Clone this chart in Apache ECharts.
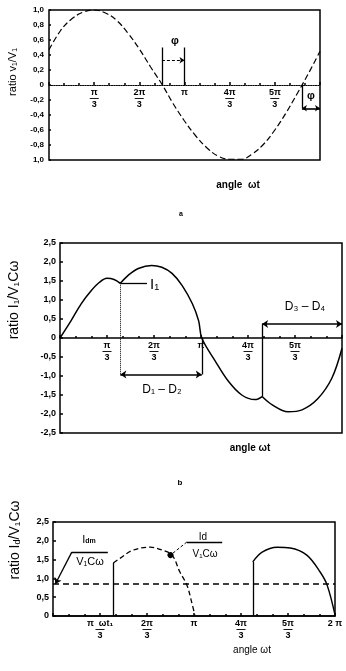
<!DOCTYPE html>
<html>
<head>
<meta charset="utf-8">
<script src="https://cdn.jsdelivr.net/npm/echarts@6/dist/echarts.min.js"></script>
<style>
  html, body { margin: 0; padding: 0; background: #fff; }
  #chart { width: 346px; height: 671px; }
</style>
</head>
<body>
<div id="chart"></div>
<script>
// angles in degrees (0..2π)

// (a) voltage ratio v1/V1
const angleA = [0, 15, 30, 45, 60, 75, 90, 105, 120, 135, 150, 165, 180, 195, 210, 225, 240, 255, 270, 285, 300, 315, 330, 345, 360];
const ratioV = [0.47, 0.72, 0.88, 0.97, 1.0, 0.96, 0.86, 0.69, 0.48, 0.24, 0.01, -0.25, -0.48, -0.68, -0.84, -0.95, -0.99, -0.99, -0.92, -0.79, -0.6, -0.37, -0.11, 0.16, 0.45];

// (b) current ratio I1/V1Cω
const angleB = [0, 14, 27, 40, 50, 60, 69, 77, 87, 100, 117, 130, 143, 156, 169, 177, 181, 198, 215, 232, 249, 258, 271, 291, 309, 329, 347, 360];
const ratioI1 = [0, 0.45, 0.9, 1.25, 1.46, 1.57, 1.54, 1.44, 1.65, 1.83, 1.91, 1.86, 1.7, 1.38, 0.9, 0.45, 0, -0.6, -1.14, -1.5, -1.62, -1.54, -1.76, -1.94, -1.89, -1.6, -1.06, -0.27];
const jumpIdx = [7, 21]; // switching instants (cusps)

// (c) diode current ratio Id/V1Cω, two conduction intervals (first point = top of the jump)
const angleC1 = [77, 86, 102, 124, 140, 152, 162, 171, 177, 181];
const ratioC1 = [1.41, 1.54, 1.75, 1.83, 1.75, 1.62, 1.17, 0.82, 0.37, 0.03];
const angleC2 = [255, 267, 286, 303, 324, 341, 350, 360];
const ratioC2 = [1.44, 1.70, 1.83, 1.81, 1.62, 1.17, 0.82, 0.03];
const meanRatio = 0.85;

// tick labels (fractions of π)
const tickAngles = [60, 120, 180, 240, 300, 360];
const tickNum = ['π', '2π', 'π', '4π', '5π', ''];
const tickDen = ['3', '3', '', '3', '3', ''];

// annotation positions (data coords)
const phiA = [150, 180];
const phiB = [336, 360];
const d12 = [77, 181];
const d12Y = -0.96;
const d34 = [258, 360];
const d34Y = 0.37;

const FONT = '"Liberation Sans", Arial, sans-serif';
const K = '#000';

function fracLabel(v, extra) {
  const i = tickAngles.indexOf(v);
  if (i < 0) return '';
  if (extra && extra[v] !== undefined) return extra[v];
  if (!tickNum[i]) return '';
  if (!tickDen[i]) return '{n|' + tickNum[i] + '}';
  return '{n|' + tickNum[i] + '}\n{b|—}\n{d|' + tickDen[i] + '}';
}

const fracRich = {
  n: { fontSize: 9, fontWeight: 'bold', lineHeight: 9, fontFamily: FONT, color: K },
  b: { fontSize: 9, fontWeight: 'bold', lineHeight: 3, fontFamily: FONT, color: K },
  d: { fontSize: 9, fontWeight: 'bold', lineHeight: 9, fontFamily: FONT, color: K },
  t: { fontSize: 9, fontWeight: 'bold', lineHeight: 9, fontFamily: FONT, color: K }
};

const comma = (v, digits) => v === 0 ? '0' : v.toFixed(digits).replace('.', ',');

function seg(a, b, style, sym) {
  return [
    { coord: a, symbol: sym ? sym[0] : 'none', lineStyle: style },
    { coord: b, symbol: sym ? sym[1] : 'none' }
  ];
}
const solid = { color: K, width: 1.3, type: 'solid' };
const thick = { color: K, width: 1.6, type: 'solid' };
const dotted = { color: K, width: 1, type: 'dotted' };
const dashed = { color: K, width: 1, type: [3, 2] };

const chart = echarts.init(document.getElementById('chart'));

const gridBase = { show: true, borderColor: K, borderWidth: 1.5, backgroundColor: 'transparent' };
const grids = [
  { left: 49, top: 10, width: 271, height: 150 },
  { left: 60, top: 243, width: 282, height: 190 },
  { left: 53, top: 522, width: 282, height: 94 }
];
// x axes of (a) and (b) sit on the zero line, half-way up the plot
const xOffsets = [-75, -95, 0];

const pairsB = angleB.map((a, i) => [a, ratioI1[i]]);
const piecesB = [pairsB.slice(0, jumpIdx[0] + 1), pairsB.slice(jumpIdx[0], jumpIdx[1] + 1), pairsB.slice(jumpIdx[1])];

const seriesB = piecesB.map((data, k) => ({
  name: 'I1', type: 'line', xAxisIndex: 1, yAxisIndex: 1,
  data, smooth: 0.35, showSymbol: false,
  lineStyle: { color: K, width: 1.5 },
  markLine: k > 0 ? undefined : {
    silent: true, symbolSize: 6, label: { show: false },
    data: [
      seg([d12[0], ratioI1[jumpIdx[0]]], [d12[0], d12Y], dotted),
      seg([d12[1], 0], [d12[1], d12Y], solid),
      seg([d12[0], d12Y], [d12[1], d12Y], thick, ['arrow', 'arrow']),
      seg([d34[0], ratioI1[jumpIdx[1]]], [d34[0], d34Y], solid),
      seg([d34[0], d34Y], [d34[1], d34Y], thick, ['arrow', 'arrow']),
      seg([d12[0], ratioI1[jumpIdx[0]]], [111, ratioI1[jumpIdx[0]]], solid)
    ]
  }
}));

chart.setOption({
  backgroundColor: '#fff',
  animation: false,
  grid: grids.map(g => Object.assign({}, g, gridBase)),
  xAxis: [0, 1, 2].map(g => ({
    type: 'value', gridIndex: g, min: 0, max: 360, interval: 60,
    position: 'bottom', offset: xOffsets[g],
    axisLine: { onZero: false, lineStyle: { color: K, width: g === 0 ? 1.2 : 1.5, type: g === 0 ? 'dotted' : 'solid' } },
    axisTick: { show: true, inside: true, length: 3, lineStyle: { color: K, width: 1.5 } },
    minorTick: { show: true, splitNumber: 3, length: 2, lineStyle: { color: K, width: 1.5 } },
    splitLine: { show: false },
    axisLabel: {
      margin: 3,
      formatter: v => fracLabel(v, g === 2 ? { 60: '{n|π}{t|  ωt₁}\n{b|—}\n{d|3}', 360: '{n|2 π}' } : null),
      rich: fracRich
    }
  })),
  yAxis: [
    {
      type: 'value', gridIndex: 0, min: -1, max: 1, interval: 0.2,
      axisLine: { show: false },
      axisTick: { show: true, inside: true, length: 2, lineStyle: { color: K, width: 1.5 } },
      splitLine: { show: false },
      axisLabel: {
        margin: 5, fontSize: 8, fontWeight: 'bold', fontFamily: FONT, color: K,
        formatter: v => v === -1 ? '1,0' : comma(v, 1)
      }
    },
    {
      type: 'value', gridIndex: 1, min: -2.5, max: 2.5, interval: 0.5,
      axisLine: { show: false },
      axisTick: { show: true, inside: true, length: 3, lineStyle: { color: K, width: 1.5 } },
      splitLine: { show: false },
      axisLabel: {
        margin: 4, fontSize: 9, fontWeight: 'bold', fontFamily: FONT, color: K,
        formatter: v => comma(v, 1)
      }
    },
    {
      type: 'value', gridIndex: 2, min: 0, max: 2.5, interval: 0.5,
      axisLine: { show: false },
      axisTick: { show: true, inside: true, length: 3, lineStyle: { color: K, width: 1.5 } },
      splitLine: { show: false },
      axisLabel: {
        margin: 4, fontSize: 9, fontWeight: 'bold', fontFamily: FONT, color: K,
        formatter: v => comma(v, 1)
      }
    }
  ],
  series: [
    {
      name: 'v1', type: 'line', xAxisIndex: 0, yAxisIndex: 0,
      data: angleA.map((a, i) => [a, ratioV[i]]),
      smooth: 0.4, showSymbol: false,
      lineStyle: { color: K, width: 1.2, type: [6, 3] },
      markLine: {
        silent: true, symbolSize: 5, label: { show: false },
        data: [
          seg([phiA[0], 0], [phiA[0], 0.5], solid),
          seg([phiA[1], 0], [phiA[1], 0.5], solid),
          seg([phiA[0], 0.33], [phiA[1], 0.33], dashed, ['none', 'arrow']),
          seg([phiB[0], 0], [phiB[0], -0.31], solid),
          seg([phiB[0], -0.31], [phiB[1], -0.31], thick, ['arrow', 'arrow'])
        ]
      }
    },
    ...seriesB,
    {
      name: 'Id1', type: 'line', xAxisIndex: 2, yAxisIndex: 2,
      data: angleC1.map((a, i) => [a, ratioC1[i]]),
      smooth: 0.35, showSymbol: false,
      lineStyle: { color: K, width: 1.3, type: [5, 3] },
      markLine: {
        silent: true, symbolSize: 6, label: { show: false },
        data: [
          seg([angleC1[0], 0], [angleC1[0], ratioC1[0]], solid),
          seg([0, meanRatio], [360, meanRatio], { color: K, width: 1.6, type: [6, 4] }),
          seg([24, 1.7], [70, 1.7], solid),
          seg([24, 1.7], [3, meanRatio], solid, ['none', 'arrow']),
          seg([171, 1.97], [216, 1.97], solid),
          seg([171, 1.97], [150, 1.62], dashed, ['none', 'circle'])
        ]
      }
    },
    {
      name: 'Id2', type: 'line', xAxisIndex: 2, yAxisIndex: 2,
      data: angleC2.map((a, i) => [a, ratioC2[i]]),
      smooth: 0.35, showSymbol: false,
      lineStyle: { color: K, width: 1.4 },
      markLine: {
        silent: true, symbol: 'none', label: { show: false },
        data: [ seg([angleC2[0], 0], [angleC2[0], ratioC2[0]], solid) ]
      }
    }
  ],
  graphic: [
    // (a)
    { type: 'text', x: 13, y: 72, rotation: Math.PI / 2,
      style: { text: 'ratio v₁/V₁', font: '11px ' + FONT, fill: K, align: 'center', verticalAlign: 'middle' } },
    { type: 'text', x: 175, y: 41, style: { text: 'φ', font: 'bold 11px ' + FONT, fill: K, align: 'center', verticalAlign: 'middle' } },
    { type: 'text', x: 311, y: 96, style: { text: 'φ', font: 'bold 11px ' + FONT, fill: K, align: 'center', verticalAlign: 'middle' } },
    { type: 'text', x: 238, y: 185, style: { text: 'angle  ωt', font: 'bold 10px ' + FONT, fill: K, align: 'center', verticalAlign: 'middle' } },
    { type: 'text', x: 181, y: 214, style: { text: 'a', font: 'bold 7px ' + FONT, fill: K, align: 'center', verticalAlign: 'middle' } },
    // (b)
    { type: 'text', x: 14, y: 300, rotation: Math.PI / 2,
      style: { text: 'ratio I₁/V₁Cω', font: '14px ' + FONT, fill: K, align: 'center', verticalAlign: 'middle' } },
    { type: 'text', x: 150, y: 285, style: { text: 'I₁', font: '15px ' + FONT, fill: K, align: 'left', verticalAlign: 'middle' } },
    { type: 'text', x: 162, y: 390, style: { text: 'D₁ – D₂', font: '12px ' + FONT, fill: K, align: 'center', verticalAlign: 'middle' } },
    { type: 'text', x: 305, y: 307, style: { text: 'D₃ – D₄', font: '12px ' + FONT, fill: K, align: 'center', verticalAlign: 'middle' } },
    { type: 'text', x: 250, y: 448, style: { text: 'angle ωt', font: 'bold 10px ' + FONT, fill: K, align: 'center', verticalAlign: 'middle' } },
    { type: 'text', x: 180, y: 483, style: { text: 'b', font: 'bold 8px ' + FONT, fill: K, align: 'center', verticalAlign: 'middle' } },
    // (c)
    { type: 'text', x: 14, y: 540, rotation: Math.PI / 2,
      style: { text: '{m|ratio I}{s|d}{m|/V₁Cω}', align: 'center', verticalAlign: 'middle',
        rich: { m: { font: '14px ' + FONT, fill: K, lineHeight: 16, verticalAlign: 'bottom' },
                s: { font: '9px ' + FONT, fill: K, lineHeight: 16, verticalAlign: 'bottom' } } } },
    { type: 'text', x: 89, y: 545,
      style: { text: '{m|I}{s|dm}', align: 'center', verticalAlign: 'bottom',
        rich: { m: { font: '11px ' + FONT, fill: K, lineHeight: 12, verticalAlign: 'bottom' },
                s: { font: 'bold 7px ' + FONT, fill: K, lineHeight: 12, verticalAlign: 'bottom' } } } },
    { type: 'text', x: 90, y: 562, style: { text: 'V₁Cω', font: '11px ' + FONT, fill: K, align: 'center', verticalAlign: 'middle' } },
    { type: 'text', x: 203, y: 537, style: { text: 'Id', font: '10px ' + FONT, fill: K, align: 'center', verticalAlign: 'middle' } },
    { type: 'text', x: 205, y: 554, style: { text: 'V₁Cω', font: '10px ' + FONT, fill: K, align: 'center', verticalAlign: 'middle' } },
    { type: 'text', x: 252, y: 650, style: { text: 'angle ωt', font: '10px ' + FONT, fill: K, align: 'center', verticalAlign: 'middle' } }
  ]
});
</script>
</body>
</html>
